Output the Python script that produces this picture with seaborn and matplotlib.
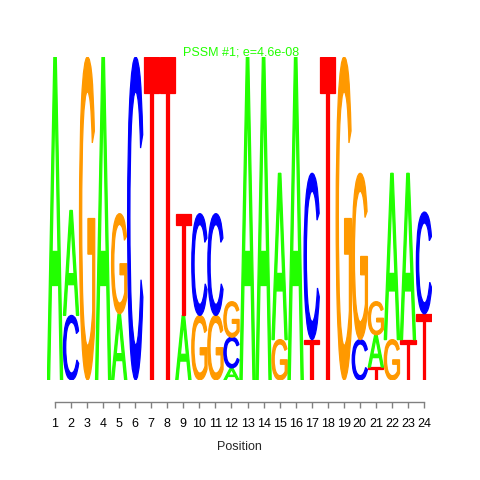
"""
Sequence logo for PSSM #1 (24 positions), drawn with seaborn/matplotlib.
"""

import numpy as np
import pandas as pd
import matplotlib
matplotlib.use("Agg")
import matplotlib.pyplot as plt
import seaborn as sns
from matplotlib.textpath import TextPath
from matplotlib.patches import PathPatch
from matplotlib.font_manager import FontProperties
from matplotlib.transforms import Affine2D

sns.set_theme(style="white")
plt.rcParams['font.family'] = ['Liberation Sans', 'DejaVu Sans']

# Letter heights (bits) per position
positions = list(range(1, 25))
height_A = [2.00, 0.65, 0.00, 2.00, 0.41, 0.00, 0.00, 0.00, 0.40, 0.00, 0.00, 0.075,
            2.00, 2.00, 1.03, 2.00, 0.00, 0.00, 0.00, 0.00, 0.200, 1.03, 1.03, 0.00]
height_C = [0.00, 0.40, 0.00, 0.00, 0.00, 2.00, 0.00, 0.00, 0.00, 0.63, 0.63, 0.19,
            0.00, 0.00, 0.00, 0.00, 1.03, 0.00, 0.00, 0.25, 0.00, 0.00, 0.00, 0.63]
height_G = [0.00, 0.00, 2.00, 0.00, 0.62, 0.00, 0.00, 0.00, 0.00, 0.40, 0.40, 0.22,
            0.00, 0.00, 0.25, 0.00, 0.00, 0.00, 2.00, 1.03, 0.205, 0.25, 0.00, 0.00]
height_T = [0.00, 0.00, 0.00, 0.00, 0.00, 0.00, 2.00, 2.00, 0.63, 0.00, 0.00, 0.00,
            0.00, 0.00, 0.00, 0.00, 0.25, 2.00, 0.00, 0.00, 0.08, 0.00, 0.25, 0.41]

title_text = "PSSM #1; e=4.6e-08"
letter_colors = {"A": "#22ff00", "C": "#0000ff", "G": "#ff9900", "T": "#ff0000"}

df = pd.DataFrame({"A": height_A, "C": height_C, "G": height_G, "T": height_T},
                  index=positions)

glyph_font = FontProperties(family="Liberation Sans", weight="normal")


def draw_letter(ax, letter, x, y0, h, color):
    """Stretch a glyph to fill the box [x-0.5, x+0.5] x [y0, y0+h]."""
    tp = TextPath((0, 0), letter, size=1, prop=glyph_font)
    bb = tp.get_extents()
    tr = (Affine2D()
          .translate(-bb.x0, -bb.y0)
          .scale(0.95 / bb.width, h / bb.height)
          .translate(x - 0.475, y0))
    path = tr.transform_path(tp)
    # thin edge in the same colour to thicken the vertical strokes a little
    ax.add_patch(PathPatch(path, facecolor=color, edgecolor=color, lw=0.9,
                           joinstyle="miter"))


fig = plt.figure(figsize=(4.8, 4.8), dpi=100)
ax = fig.add_axes([47 / 480, 1 - 380 / 480, 385 / 480, 323 / 480])

for pos, row in df.iterrows():
    y = 0.0
    for letter, h in row.sort_values().items():
        if h <= 0:
            continue
        draw_letter(ax, letter, pos, y, h, letter_colors[letter])
        y += h

ax.set_xlim(0.5, 24.5)
ax.set_ylim(0, 2)
ax.set_facecolor("white")
for side in ["left", "right", "top"]:
    ax.spines[side].set_visible(False)
ax.spines["bottom"].set_position(("outward", 22 * 0.72))
ax.spines["bottom"].set_bounds(1, 24)
ax.spines["bottom"].set_color("#808080")
ax.spines["bottom"].set_linewidth(1.0)
ax.set_yticks([])
ax.set_xticks(positions)
ax.set_xticklabels([str(p) for p in positions], fontsize=9)
ax.tick_params(axis="x", direction="out", length=4.5, width=1.0, color="#808080",
               pad=7, bottom=True, labelcolor="black")
ax.set_xlabel("Position", fontsize=9, labelpad=8)

fig.text(241 / 480, 1 - 52.5 / 480, title_text, color="#22ff00", fontsize=9,
         ha="center", va="center")

fig.savefig("out.png", dpi=100, facecolor="white")
